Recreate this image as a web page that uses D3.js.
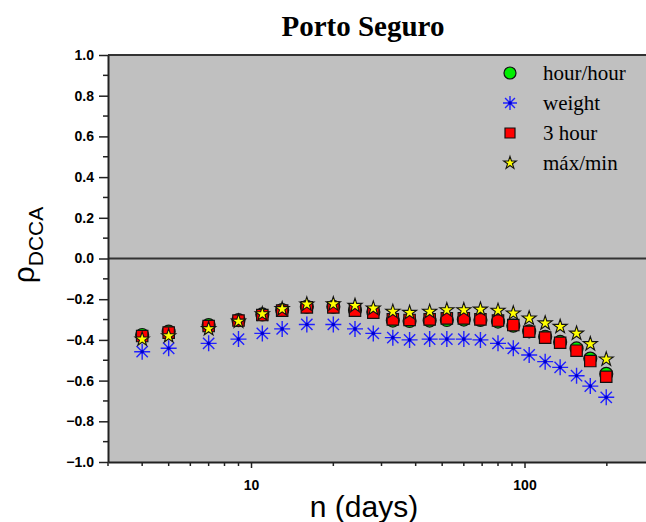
<!DOCTYPE html>
<html>
<head>
<meta charset="utf-8">
<script src="https://cdn.jsdelivr.net/npm/d3@7"></script>
<style>
  body { margin: 0; background: #fff; }
  svg { display: block; }
</style>
</head>
<body>
<div id="chart"></div>
<script>
// Window size n (days)
const nDays = [4, 5, 7, 9, 11, 13, 16, 20, 24, 28, 33, 38, 45, 52, 60, 69, 80, 91, 104, 119, 135, 155, 174, 199];

// rho_DCCA per series
const hourHour = [-0.376, -0.359, -0.327, -0.303, -0.275, -0.253, -0.237, -0.237, -0.253, -0.263, -0.305, -0.307, -0.305, -0.302, -0.300, -0.302, -0.310, -0.330, -0.358, -0.385, -0.410, -0.442, -0.492, -0.567];
const weight = [-0.458, -0.441, -0.417, -0.396, -0.368, -0.346, -0.324, -0.324, -0.346, -0.368, -0.389, -0.400, -0.396, -0.396, -0.396, -0.400, -0.417, -0.441, -0.474, -0.507, -0.535, -0.576, -0.627, -0.682];
const threeHour = [-0.381, -0.364, -0.332, -0.305, -0.278, -0.256, -0.240, -0.240, -0.256, -0.266, -0.299, -0.302, -0.299, -0.294, -0.294, -0.299, -0.305, -0.327, -0.360, -0.389, -0.414, -0.453, -0.504, -0.581];
const maxMin = [-0.397, -0.381, -0.346, -0.309, -0.273, -0.248, -0.225, -0.224, -0.232, -0.245, -0.261, -0.266, -0.261, -0.253, -0.253, -0.250, -0.256, -0.269, -0.294, -0.318, -0.335, -0.368, -0.420, -0.495];

const legendLabels = ['hour/hour', 'weight', '3 hour', 'máx/min'];
const yTicks = [-1.0, -0.8, -0.6, -0.4, -0.2, 0.0, 0.2, 0.4, 0.6, 0.8, 1.0];
const xMajor = [10, 100];
const xMinor = [3, 4, 5, 6, 7, 8, 9, 20, 30, 40, 50, 60, 70, 80, 90, 200, 300];

const width = 646, height = 522;
const margin = { top: 55, right: -9, bottom: 60, left: 108 };

const svg = d3.select('#chart').append('svg')
    .attr('width', width)
    .attr('height', height);

const x = d3.scaleLog()
    .domain([3, 300])
    .range([margin.left, width - margin.right]);

const y = d3.scaleLinear()
    .domain([-1, 1])
    .range([height - margin.bottom, margin.top]);

// plot background
svg.append('rect')
    .attr('x', margin.left)
    .attr('y', margin.top)
    .attr('width', x.range()[1] - margin.left)
    .attr('height', y(-1) - y(1))
    .attr('fill', '#c0c0c0');

// zero line and top frame
svg.append('line')
    .attr('x1', margin.left).attr('x2', x.range()[1])
    .attr('y1', y(0)).attr('y2', y(0))
    .attr('stroke', '#333').attr('stroke-width', 2);
svg.append('line')
    .attr('x1', margin.left).attr('x2', x.range()[1])
    .attr('y1', y(1)).attr('y2', y(1))
    .attr('stroke', '#333').attr('stroke-width', 2);

// y axis
const yAxis = svg.append('g')
    .attr('transform', `translate(${margin.left},0)`)
    .call(d3.axisLeft(y).tickValues(yTicks).tickSize(9).tickSizeOuter(0).tickFormat(d3.format('.1f')));
yAxis.append('g').selectAll('line')
    .data(d3.range(-0.9, 1.0, 0.2))
    .enter().append('line')
    .attr('x1', -5).attr('x2', 0)
    .attr('y1', d => y(d)).attr('y2', d => y(d));

// x axis
const xAxis = svg.append('g')
    .attr('transform', `translate(0,${y(-1)})`)
    .call(d3.axisBottom(x).tickValues(xMajor).tickSize(6).tickSizeOuter(0).tickFormat(d3.format('d')));
xAxis.append('g').selectAll('line')
    .data(xMinor)
    .enter().append('line')
    .attr('x1', d => x(d)).attr('x2', d => x(d))
    .attr('y1', 0).attr('y2', 4);

[yAxis, xAxis].forEach(g => {
    g.select('.domain').attr('stroke', '#222').attr('stroke-width', 2);
    g.selectAll('line').attr('stroke', '#222').attr('stroke-width', 1.5);
    g.selectAll('text')
        .attr('fill', '#000')
        .style('font-family', 'Liberation Sans, Arial, sans-serif')
        .style('font-weight', 'bold')
        .style('font-size', '14px');
});
yAxis.selectAll('.tick text').attr('x', -14);
xAxis.selectAll('.tick text').attr('y', 18);

// marker shapes
const asteriskPath = (r) => {
    let p = '';
    for (let k = 0; k < 4; k++) {
        const a = k * Math.PI / 4;
        const dx = r * Math.cos(a), dy = r * Math.sin(a);
        p += `M${-dx},${-dy}L${dx},${dy}`;
    }
    return p;
};
const starPath = d3.symbol(d3.symbolStar, 62)();
const squarePath = d3.symbol(d3.symbolSquare, 130)();

const drawCircle = (g, cx, cy, r) => g.append('circle')
    .attr('cx', cx).attr('cy', cy).attr('r', r)
    .attr('fill', '#00ee00').attr('stroke', '#111').attr('stroke-width', 1.2);
const drawAsterisk = (g, cx, cy, r) => {
    g.append('path')
        .attr('transform', `translate(${cx},${cy})`)
        .attr('d', asteriskPath(r))
        .attr('stroke', '#2020ff').attr('stroke-width', 1.4).attr('fill', 'none');
    g.append('circle').attr('cx', cx).attr('cy', cy).attr('r', 1.8).attr('fill', '#0000cc');
};
const drawSquare = (g, cx, cy, path) => g.append('path')
    .attr('transform', `translate(${cx},${cy})`)
    .attr('d', path)
    .attr('fill', '#ff0000').attr('stroke', '#111').attr('stroke-width', 1.2);
const drawStar = (g, cx, cy, path) => g.append('path')
    .attr('transform', `translate(${cx},${cy})`)
    .attr('d', path)
    .attr('fill', '#ffff00').attr('stroke', '#111').attr('stroke-width', 1.1);

const marks = svg.append('g');
nDays.forEach((n, i) => drawCircle(marks, x(n), y(hourHour[i]), 6.5));
nDays.forEach((n, i) => drawAsterisk(marks, x(n), y(weight[i]), 8));
nDays.forEach((n, i) => drawSquare(marks, x(n), y(threeHour[i]), squarePath));
nDays.forEach((n, i) => drawStar(marks, x(n), y(maxMin[i]), starPath));

// legend
const legend = svg.append('g');
const lx = 510, ly0 = 73, ldy = 30;
drawCircle(legend, lx, ly0, 6);
drawAsterisk(legend, lx, ly0 + ldy, 7);
drawSquare(legend, lx, ly0 + 2 * ldy, d3.symbol(d3.symbolSquare, 100)());
drawStar(legend, lx, ly0 + 3 * ldy, d3.symbol(d3.symbolStar, 50)());
legend.selectAll('text.lbl')
    .data(legendLabels)
    .enter().append('text')
    .attr('x', lx + 33)
    .attr('y', (d, i) => ly0 + i * ldy + 7)
    .style('font-family', 'Liberation Serif, Times New Roman, serif')
    .style('font-size', '21px')
    .text(d => d);

// title
svg.append('text')
    .attr('x', 363).attr('y', 36)
    .attr('text-anchor', 'middle')
    .style('font-family', 'Liberation Serif, Times New Roman, serif')
    .style('font-weight', 'bold')
    .style('font-size', '29px')
    .text('Porto Seguro');

// axis labels
svg.append('text')
    .attr('x', 364).attr('y', 517)
    .attr('text-anchor', 'middle')
    .style('font-family', 'Liberation Sans, Arial, sans-serif')
    .style('font-size', '30px')
    .text('n (days)');

const yLabel = svg.append('text')
    .attr('transform', 'translate(34,245) rotate(-90)')
    .attr('text-anchor', 'middle')
    .style('font-family', 'Liberation Sans, Arial, sans-serif');
yLabel.append('tspan').style('font-size', '30px').text('ρ');
yLabel.append('tspan').attr('dy', 9).style('font-size', '21px').text('DCCA');
</script>
</body>
</html>
